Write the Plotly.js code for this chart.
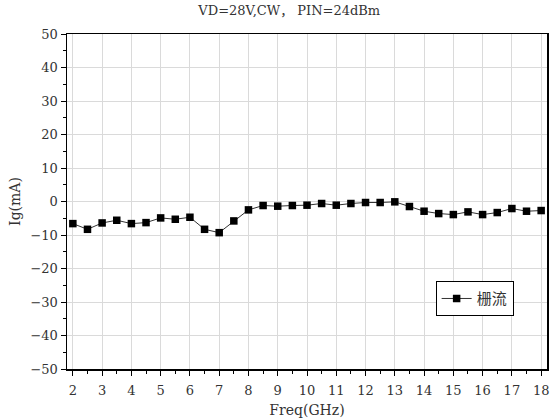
<!DOCTYPE html>
<html><head><meta charset="utf-8">
<script src="https://cdn.plot.ly/plotly-3.0.1.min.js"></script>
<style>html,body{margin:0;padding:0;background:#fff}</style>
</head><body>
<div id="chart" style="width:551px;height:420px"></div>
<script>
const freq = [2,2.5,3,3.5,4,4.5,5,5.5,6,6.5,7,7.5,8,8.5,9,9.5,10,10.5,11,11.5,12,12.5,13,13.5,14,14.5,15,15.5,16,16.5,17,17.5,18];
const ig = [-6.6,-8.3,-6.4,-5.6,-6.6,-6.3,-4.9,-5.3,-4.7,-8.3,-9.3,-5.8,-2.5,-1.2,-1.4,-1.2,-1.1,-0.6,-1.1,-0.6,-0.3,-0.3,-0.1,-1.5,-2.9,-3.6,-3.9,-3.1,-3.9,-3.3,-2.1,-2.9,-2.7];
const seriesName = '栅流';
const titleText = 'VD=28V,CW， PIN=24dBm';
const xTitle = 'Freq(GHz)';
const yTitle = 'Ig(mA)';

const fontFam = '"DejaVu Serif", "Liberation Serif", "Noto Sans CJK SC", serif';

Plotly.newPlot('chart', [{
  x: freq, y: ig, name: seriesName, type: 'scatter', mode: 'lines+markers',
  line: {color: '#333', width: 1},
  marker: {symbol: 'square', size: 7.5, color: '#000'}
}], {
  width: 551, height: 420,
  margin: {l: 67, r: 4, t: 34, b: 51},
  paper_bgcolor: '#fff', plot_bgcolor: '#fff',
  font: {family: fontFam, size: 13, color: '#333'},
  title: {text: titleText, x: 0.525, xanchor: 'center', y: 0.985, yanchor: 'top', font: {family: fontFam, size: 13, color: '#333'}},
  xaxis: {
    range: [1.8, 18.2], dtick: 1, tick0: 0,
    showline: true, linecolor: '#000', linewidth: 1.5, mirror: true,
    ticks: 'outside', ticklen: 5, tickcolor: '#000', tickwidth: 1,
    ticklabelstandoff: 4,
    showgrid: true, gridcolor: '#dadada', gridwidth: 1, zeroline: false,
    minor: {dtick: 0.5, ticks: 'outside', ticklen: 3, tickcolor: '#000', showgrid: false},
    title: {text: xTitle, standoff: 8, font: {family: fontFam, size: 14, color: '#333'}},
    tickfont: {family: fontFam, size: 13, color: '#333'}
  },
  yaxis: {
    range: [-50, 50], dtick: 10,
    showline: true, linecolor: '#000', linewidth: 1.5, mirror: true,
    ticks: 'outside', ticklen: 5, tickcolor: '#000', tickwidth: 1,
    showgrid: true, gridcolor: '#dadada', gridwidth: 1, zeroline: false,
    minor: {dtick: 5, ticks: 'outside', ticklen: 3, tickcolor: '#000', showgrid: false},
    title: {text: yTitle, standoff: 6, font: {family: fontFam, size: 14, color: '#333'}},
    tickfont: {family: fontFam, size: 13, color: '#333'}
  },
  showlegend: true,
  legend: {x: 0.768, y: 0.262, xanchor: 'left', yanchor: 'top', bordercolor: '#000', borderwidth: 1, bgcolor: '#fff',
    font: {family: '"Noto Sans CJK SC", sans-serif', size: 15, color: '#333'}, itemwidth: 30, tracegroupgap: 0}
}, {displayModeBar: false, staticPlot: true});
</script>
</body></html>
